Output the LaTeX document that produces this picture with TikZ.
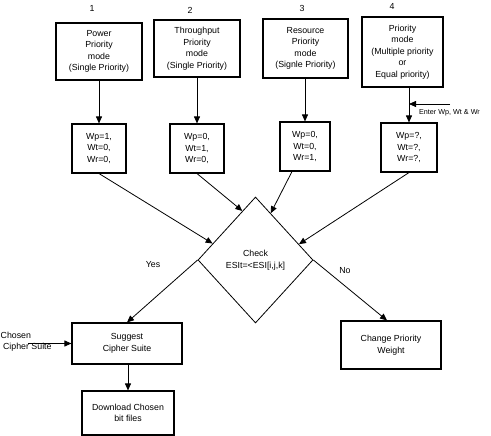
\documentclass[tikz,border=0pt]{standalone}
\usepackage{fontspec}
\setmainfont{Liberation Sans}
\usepackage{tikz}
\usetikzlibrary{shapes.geometric,arrows.meta}

\begin{document}
\begin{tikzpicture}[x=1pt,y=-1pt,
    >={Triangle[length=7pt,width=6pt]},
    every node/.style={font=\fontsize{8.8}{11.5}\selectfont, align=center, inner sep=1pt},
    modebox/.style={draw, line width=1.1pt, minimum width=86pt, minimum height=57pt},
    wbox/.style={draw, line width=1.1pt, minimum width=54pt, minimum height=49pt},
    arr/.style={->, line width=0.8pt}]
  \useasboundingbox (0,0) rectangle (491,436);
  % top: the four priority modes
  \node at (92,8) {1};
  \node at (190,10) {2};
  \node at (302,8) {3};
  \node at (392,6) {4};
  \node[modebox] (power) at (99,51.5) {Power\\Priority\\mode\\(Single Priority)};
  \node[modebox] (thru) at (197,48.5) {Throughput\\Priority\\mode\\(Single Priority)};
  \node[modebox, minimum width=85pt, minimum height=59pt] (res) at (305.5,48.5) {Resource\\Priority\\mode\\(Signle Priority)};
  \node[modebox, minimum width=81pt, minimum height=70pt] (multi) at (402.5,52) {Priority\\mode\\(Multiple priority\\or\\Equal priority)};
  % weights
  \node[wbox] (w1) at (99,148.5) {Wp=1,\\Wt=0,\\Wr=0,};
  \node[wbox] (w2) at (197,148.5) {Wp=0,\\Wt=1,\\Wr=0,};
  \node[wbox, minimum width=50pt] (w3) at (305,146.5) {Wp=0,\\Wt=0,\\Wr=1,};
  \node[wbox, minimum width=56pt] (w4) at (409,147.5) {Wp=?,\\Wt=?,\\Wr=?,};
  \draw[arr] (power) -- (w1);
  \draw[arr] (thru) -- (w2);
  \draw[arr] (res.south -| w3.north) -- (w3.north);
  \draw[arr] (multi.south -| w4.north) -- (w4.north);
  \coordinate (enter) at (450,104);
  \draw[arr] (enter) -- (enter -| w4.north);
  \node[font=\fontsize{7.2}{8}\selectfont] (entertxt) at (449.5,113) {Enter Wp, Wt \& Wr};
  % decision
  \node[draw, diamond, line width=0.8pt, inner sep=0pt, minimum width=115pt, minimum height=126pt] (check) at (255.5,260) {Check\\ESIt=<ESI[i,j,k]};
  \draw[arr] (w1.south) -- (check.159.6);
  \draw[arr] (w2.south) -- (check.105.5);
  \draw[arr] ([xshift=-13pt]w3.south) -- (check.72);
  \draw[arr] (w4.south) -- (check.20.4);
  \node (yes) at (153,265) {Yes};
  \node (no) at (345,271) {No};
  % outcomes
  \node[draw, line width=1.1pt, minimum width=110pt, minimum height=41pt] (suggest) at (127,343.5) {Suggest\\Cipher Suite};
  \node[draw, line width=1.1pt, minimum width=100pt, minimum height=48pt] (change) at (391,345) {Change Priority\\Weight};
  \node[draw, line width=1.1pt, minimum width=92pt, minimum height=44pt] (download) at (128,413) {Download Chosen\\bit files};
  \draw[arr] (check.west) -- (suggest.north);
  \draw[arr] (check.east) -- ([xshift=-4pt]change.north);
  \draw[arr] (suggest.south -| download.north) -- (download.north);
  \node[align=left, anchor=west, inner sep=0pt] (chosentxt) at (0.5,341.5) {Chosen\\\ Cipher Suite};
  \coordinate (chosen) at (28,343.5);
  \draw[arr] (chosen) -- (suggest.west);
\end{tikzpicture}
\end{document}
